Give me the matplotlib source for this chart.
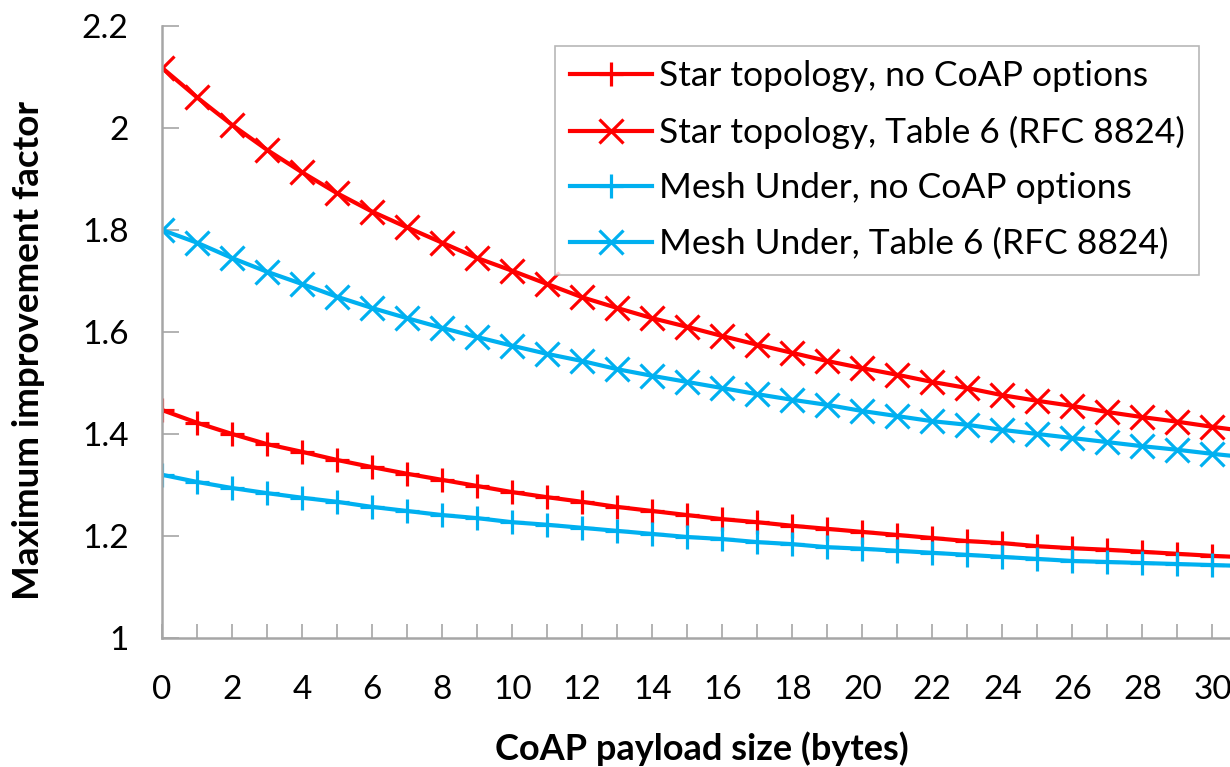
import matplotlib
matplotlib.use("Agg")
import matplotlib.pyplot as plt

plt.rcParams['font.family'] = ['Lato', 'DejaVu Sans']

# CoAP payload size (bytes)
payload = list(range(0, 32))

# Maximum improvement factor
star_no_opts = [1.447, 1.422, 1.400, 1.380, 1.365, 1.349, 1.335, 1.322, 1.310, 1.298,
                1.286, 1.276, 1.267, 1.257, 1.249, 1.241, 1.233, 1.227, 1.220, 1.214,
                1.208, 1.202, 1.196, 1.190, 1.186, 1.180, 1.176, 1.173, 1.169, 1.165,
                1.161, 1.158]
star_table6 = [2.118, 2.060, 2.006, 1.957, 1.913, 1.872, 1.836, 1.805, 1.775, 1.745,
               1.720, 1.694, 1.668, 1.647, 1.627, 1.610, 1.592, 1.575, 1.559, 1.543,
               1.529, 1.516, 1.502, 1.490, 1.476, 1.465, 1.455, 1.443, 1.433, 1.424,
               1.414, 1.405]
mesh_no_opts = [1.320, 1.306, 1.294, 1.284, 1.275, 1.267, 1.257, 1.249, 1.241, 1.235,
                1.227, 1.222, 1.216, 1.210, 1.204, 1.198, 1.194, 1.188, 1.184, 1.178,
                1.175, 1.171, 1.167, 1.163, 1.159, 1.155, 1.151, 1.149, 1.147, 1.145,
                1.143, 1.141]
mesh_table6 = [1.800, 1.775, 1.745, 1.718, 1.694, 1.669, 1.647, 1.627, 1.608, 1.590,
               1.573, 1.557, 1.543, 1.527, 1.514, 1.502, 1.490, 1.478, 1.467, 1.457,
               1.445, 1.435, 1.425, 1.418, 1.408, 1.400, 1.392, 1.384, 1.376, 1.369,
               1.361, 1.354]

labels = ["Star topology, no CoAP options",
          "Star topology, Table 6 (RFC 8824)",
          "Mesh Under, no CoAP options",
          "Mesh Under, Table 6 (RFC 8824)"]

RED = "#FF0000"
BLUE = "#00B0F0"
GREY = "#A6A6A6"

fig = plt.figure(figsize=(12.3, 7.67), dpi=100)
# axes run past the right edge on purpose: the original is cropped there
ax = fig.add_axes([0.1317, 0.1682, 0.911, 0.798])

style = dict(linewidth=3, markersize=17, markeredgewidth=2.3)
ax.plot(payload, star_no_opts, color=RED, marker="+", label=labels[0], **style)
ax.plot(payload, star_table6, color=RED, marker="x", label=labels[1], **style)
ax.plot(payload, mesh_no_opts, color=BLUE, marker="+", label=labels[2], **style)
ax.plot(payload, mesh_table6, color=BLUE, marker="x", label=labels[3], **style)

ax.set_xlim(0, 32)
ax.set_ylim(1, 2.2)

ax.set_xticks(range(0, 33))
ax.set_xticklabels([str(i) if i % 2 == 0 else "" for i in range(0, 33)])
ax.set_yticks([1, 1.2, 1.4, 1.6, 1.8, 2, 2.2])
ax.set_yticklabels(["1", "1.2", "1.4", "1.6", "1.8", "2", "2.2"])

ax.tick_params(axis="x", direction="in", length=10, width=1.2, color=GREY,
               labelsize=24, pad=27)
ax.tick_params(axis="y", direction="in", length=12, width=1.2, color=GREY,
               labelsize=24, pad=24)

for side in ["top", "right"]:
    ax.spines[side].set_visible(False)
for side in ["left", "bottom"]:
    ax.spines[side].set_color(GREY)
    ax.spines[side].set_linewidth(1.8)

ax.set_xlabel("CoAP payload size (bytes)", fontsize=26, fontweight="bold")
ax.set_ylabel("Maximum improvement factor", fontsize=26.5, fontweight="bold")
ax.xaxis.set_label_coords(0.482, -0.152)
ax.yaxis.set_label_coords(-0.104, 0.469)

leg = ax.legend(loc="upper left", bbox_to_anchor=(0.351, 0.968), fontsize=25.5,
                frameon=True, fancybox=False, handlelength=2.3, handletextpad=0.2,
                labelspacing=0.66, borderpad=0.42, borderaxespad=0)
leg.get_frame().set_edgecolor(GREY)
leg.get_frame().set_linewidth(1.2)

fig.savefig("out.png", dpi=100)
